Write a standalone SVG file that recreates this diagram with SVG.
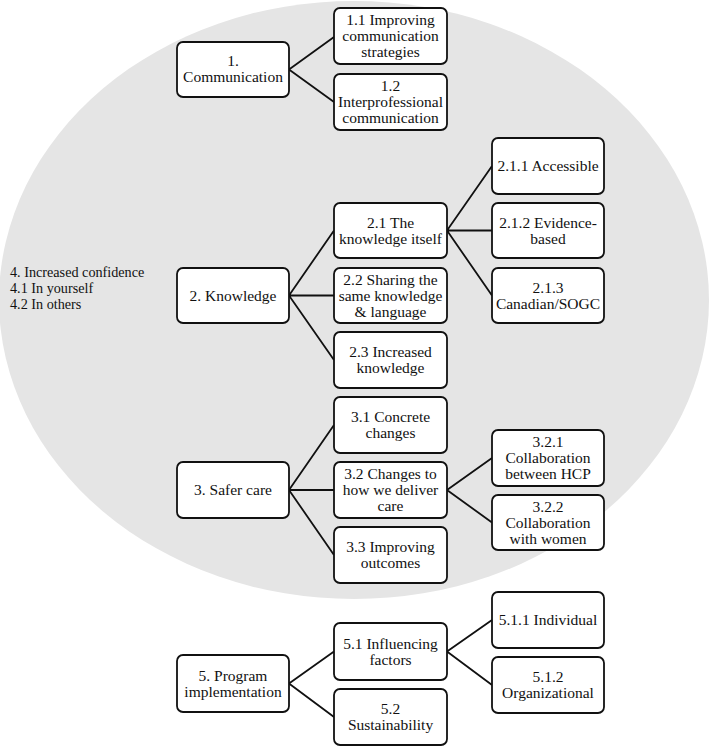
<svg xmlns="http://www.w3.org/2000/svg" width="709" height="746" viewBox="0 0 709 746">
<style>
.bg{fill:#ffffff}
.ell{fill:#e5e5e5}
.box{fill:#ffffff;stroke:#111111;stroke-width:1.8}
.t{font-family:"Liberation Serif","Times New Roman",serif;font-size:15.5px;fill:#111111;text-anchor:middle}
.lt{font-family:"Liberation Serif","Times New Roman",serif;font-size:14.2px;fill:#111111}
.c{stroke:#111111;stroke-width:1.8;fill:none}
</style>
<rect class="bg" x="0" y="0" width="709" height="746"/>
<ellipse class="ell" cx="354" cy="300" rx="355" ry="299"/>
<g id="label4">
<text class="lt" x="10" y="277">4. Increased confidence</text>
<text class="lt" x="10" y="293">4.1 In yourself</text>
<text class="lt" x="10" y="309">4.2 In others</text>
</g>
<g id="connectors">
<path class="c" d="M289,69.5 L334,37 M289,69.5 L334,102"/>
<path class="c" d="M289,295.5 L334,230.5 M289,295.5 L334,295.5 M289,295.5 L334,360"/>
<path class="c" d="M447,230.5 L492,166 M447,230.5 L492,230.5 M447,230.5 L492,295.5"/>
<path class="c" d="M289,490 L334,425 M289,490 L334,490 M289,490 L334,555"/>
<path class="c" d="M447,490 L492,458 M447,490 L492,522.5"/>
<path class="c" d="M289,683.5 L334,651.5 M289,683.5 L334,717"/>
<path class="c" d="M447,651.5 L492,620 M447,651.5 L492,685"/>
</g>
<g id="n1"><rect class="box" x="177" y="42" width="112" height="55" rx="6"/>
<text class="t" x="233" y="66">1.</text><text class="t" x="233" y="82">Communication</text></g>
<g id="n1_1"><rect class="box" x="334" y="8" width="113" height="56" rx="6"/>
<text class="t" x="390.5" y="25">1.1 Improving</text><text class="t" x="390.5" y="41">communication</text><text class="t" x="390.5" y="57">strategies</text></g>
<g id="n1_2"><rect class="box" x="334" y="74" width="113" height="56" rx="6"/>
<text class="t" x="390.5" y="91">1.2</text><text class="t" x="390.5" y="107">Interprofessional</text><text class="t" x="390.5" y="123">communication</text></g>
<g id="n2"><rect class="box" x="177" y="268" width="112" height="55" rx="6"/>
<text class="t" x="233" y="300.5">2. Knowledge</text></g>
<g id="n2_1"><rect class="box" x="334" y="203" width="113" height="55" rx="6"/>
<text class="t" x="390.5" y="227.5">2.1 The</text><text class="t" x="390.5" y="243.5">knowledge itself</text></g>
<g id="n2_2"><rect class="box" x="334" y="268" width="113" height="55" rx="6"/>
<text class="t" x="390.5" y="284.5">2.2 Sharing the</text><text class="t" x="390.5" y="300.5">same knowledge</text><text class="t" x="390.5" y="316.5">&amp; language</text></g>
<g id="n2_3"><rect class="box" x="334" y="332" width="113" height="56" rx="6"/>
<text class="t" x="390.5" y="357">2.3 Increased</text><text class="t" x="390.5" y="373">knowledge</text></g>
<g id="n2_1_1"><rect class="box" x="492" y="138" width="112" height="56" rx="6"/>
<text class="t" x="548" y="171">2.1.1 Accessible</text></g>
<g id="n2_1_2"><rect class="box" x="492" y="203" width="112" height="55" rx="6"/>
<text class="t" x="548" y="227.5">2.1.2 Evidence-</text><text class="t" x="548" y="243.5">based</text></g>
<g id="n2_1_3"><rect class="box" x="492" y="268" width="112" height="55" rx="6"/>
<text class="t" x="548" y="292.5">2.1.3</text><text class="t" x="548" y="308.5">Canadian/SOGC</text></g>
<g id="n3"><rect class="box" x="177" y="462" width="112" height="56" rx="6"/>
<text class="t" x="233" y="495">3. Safer care</text></g>
<g id="n3_1"><rect class="box" x="334" y="397" width="113" height="56" rx="6"/>
<text class="t" x="390.5" y="422">3.1 Concrete</text><text class="t" x="390.5" y="438">changes</text></g>
<g id="n3_2"><rect class="box" x="334" y="462" width="113" height="56" rx="6"/>
<text class="t" x="390.5" y="479">3.2 Changes to</text><text class="t" x="390.5" y="495">how we deliver</text><text class="t" x="390.5" y="511">care</text></g>
<g id="n3_3"><rect class="box" x="334" y="527" width="113" height="56" rx="6"/>
<text class="t" x="390.5" y="552">3.3 Improving</text><text class="t" x="390.5" y="568">outcomes</text></g>
<g id="n3_2_1"><rect class="box" x="492" y="430" width="112" height="56" rx="6"/>
<text class="t" x="548" y="447">3.2.1</text><text class="t" x="548" y="463">Collaboration</text><text class="t" x="548" y="479">between HCP</text></g>
<g id="n3_2_2"><rect class="box" x="492" y="495" width="112" height="55" rx="6"/>
<text class="t" x="548" y="511.5">3.2.2</text><text class="t" x="548" y="527.5">Collaboration</text><text class="t" x="548" y="543.5">with women</text></g>
<g id="n5"><rect class="box" x="177" y="655" width="112" height="57" rx="6"/>
<text class="t" x="233" y="680.5">5. Program</text><text class="t" x="233" y="696.5">implementation</text></g>
<g id="n5_1"><rect class="box" x="334" y="623" width="113" height="57" rx="6"/>
<text class="t" x="390.5" y="648.5">5.1 Influencing</text><text class="t" x="390.5" y="664.5">factors</text></g>
<g id="n5_2"><rect class="box" x="334" y="689" width="113" height="56" rx="6"/>
<text class="t" x="390.5" y="714">5.2</text><text class="t" x="390.5" y="730">Sustainability</text></g>
<g id="n5_1_1"><rect class="box" x="492" y="592" width="112" height="56" rx="6"/>
<text class="t" x="548" y="625">5.1.1 Individual</text></g>
<g id="n5_1_2"><rect class="box" x="492" y="657" width="112" height="56" rx="6"/>
<text class="t" x="548" y="682">5.1.2</text><text class="t" x="548" y="698">Organizational</text></g>
</svg>
